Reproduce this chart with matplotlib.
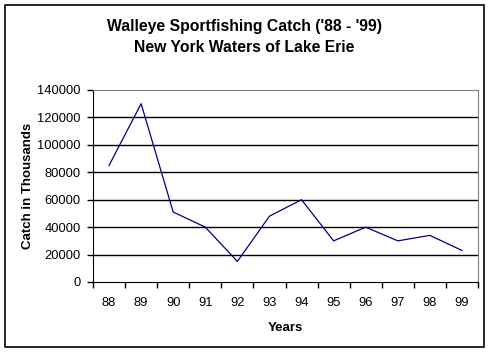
import matplotlib
matplotlib.use('Agg')
import matplotlib.pyplot as plt
from matplotlib.patches import Rectangle

plt.rcParams['font.family'] = ['Liberation Sans', 'DejaVu Sans']

# 数据 =====================================
years = ['88', '89', '90', '91', '92', '93', '94', '95', '96', '97', '98', '99']
catch = [85000, 130000, 51000, 40000, 15000, 48000, 60000, 30000, 40000, 30000, 34000, 23000]
yticks = [0, 20000, 40000, 60000, 80000, 100000, 120000, 140000]

fig = plt.figure(figsize=(4.94, 3.53), dpi=100)
ax = fig.add_axes([93 / 494, 71 / 353, 385 / 494, 192 / 353])

x = list(range(len(years)))
ax.plot(x, catch, color='#000080', linewidth=0.9)

ax.set_xlim(-0.5, len(years) - 0.5)
ax.set_ylim(0, 140000)
ax.set_yticks(yticks)
ax.set_yticklabels([str(v) for v in yticks], fontsize=9.3)

# 类别刻度放在两格之间，标签放在中间
ax.set_xticks([i - 0.5 for i in range(len(years) + 1)])
ax.set_xticklabels([])
ax.set_xticks(x, minor=True)
ax.set_xticklabels(years, minor=True, fontsize=9.3)
ax.tick_params(axis='x', which='minor', length=0, pad=11)
ax.tick_params(axis='x', which='major', length=4, width=1, direction='out')
ax.tick_params(axis='y', length=4, width=1, direction='out', pad=5)

for v in yticks[1:-1]:
    ax.axhline(v, color='black', linewidth=1, zorder=0)

ax.spines['top'].set_color('#808080')
ax.spines['right'].set_color('#808080')
ax.spines['left'].set_color('black')
ax.spines['bottom'].set_color('black')

ax.set_xlabel('Years', fontsize=9.5, fontweight='bold', labelpad=9)
ax.set_ylabel('Catch in Thousands', fontsize=9.5, fontweight='bold', labelpad=2)

fig.text(0.5 * (5 + 484) / 494, 1 - 27 / 353,
         "Walleye Sportfishing Catch ('88 - '99)",
         ha='center', va='center', fontsize=11.3, fontweight='bold')
fig.text(0.5 * (5 + 484) / 494, 1 - 48 / 353,
         'New York Waters of Lake Erie',
         ha='center', va='center', fontsize=11.3, fontweight='bold')

# 外框
fig.patches.append(Rectangle((5 / 494, 6 / 353), 479 / 494, 342 / 353,
                             transform=fig.transFigure, fill=False,
                             edgecolor='black', linewidth=1.2))

fig.savefig('out.png', dpi=100)
